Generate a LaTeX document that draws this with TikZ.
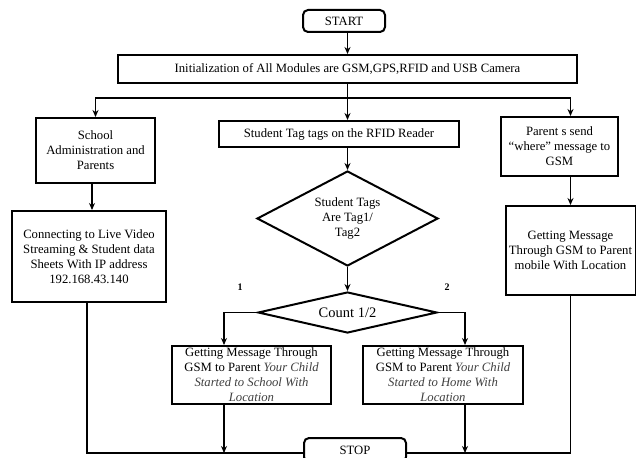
\documentclass[tikz,border=0pt]{standalone}
\usepackage{fontspec}
\setmainfont{Liberation Serif}
\usetikzlibrary{positioning,arrows.meta,shapes.geometric,calc}
\tikzset{
  procbox/.style={draw=black,line width=2pt,fill=white,align=center,inner sep=0pt,font=\fontsize{12.7}{15}\selectfont},
  termbox/.style={procbox,rounded corners=5pt,minimum width=82pt,minimum height=22pt},
  decbox/.style={procbox,diamond,shape aspect=1.9},
  flow/.style={-{Stealth[length=7pt,width=6pt]},line width=1.8pt},
  flowline/.style={line width=1.8pt},
  branchlabel/.style={font=\bfseries\fontsize{10}{12}\selectfont,inner sep=0pt}
}
\begin{document}
\begin{tikzpicture}[x=1pt,y=-1pt]
  \useasboundingbox (0,0) rectangle (636,457);
  % middle column
  \node[termbox] (start) at (344,21) {START};
  \node[procbox,minimum width=459pt,minimum height=28pt,below=21pt of start,xshift=3.5pt] (init)
    {Initialization of All Modules are GSM,GPS,RFID and USB Camera};
  \node[procbox,minimum width=240pt,minimum height=26pt,below=36pt of init,xshift=-8.5pt] (stag)
    {Student Tag tags on the RFID Reader};
  \node[decbox,minimum width=181pt,minimum height=95pt,below=22pt of stag,xshift=8.5pt] (tagcheck)
    {Student Tags\\Are Tag1/\\Tag2};
  \node[decbox,shape aspect=4.3,minimum width=179pt,minimum height=41pt,below=24pt of tagcheck,
    font=\fontsize{14.5}{16}\selectfont] (count) {Count 1/2};
  \node[procbox,minimum width=159pt,minimum height=58pt,below=11pt of count,xshift=-96pt] (schoolmsg)
    {Getting Message Through\\GSM to Parent \textit{\color{black!75}Your Child}\\
     \textit{\color{black!75}Started to School With}\\\textit{\color{black!75}Location}};
  \node[procbox,minimum width=160pt,minimum height=58pt,below=11pt of count,xshift=95.5pt] (homemsg)
    {Getting Message Through\\GSM to Parent \textit{\color{black!75}Your Child}\\
     \textit{\color{black!75}Started to Home With}\\\textit{\color{black!75}Location}};
  \node[termbox,minimum width=102pt,minimum height=24pt] (stop) at (355,450) {STOP};
  \node[branchlabel] (one) at (240,287) {1};
  \node[branchlabel] (two) at (447,287) {2};
  % side columns
  \node[procbox,minimum width=119pt,minimum height=65pt] (admin) at (95.5,150.5)
    {School\\Administration and\\Parents};
  \node[procbox,minimum width=154pt,minimum height=91pt,below=26pt of admin,xshift=-6.5pt] (live)
    {Connecting to Live Video\\Streaming \& Student data\\Sheets With IP address\\192.168.43.140};
  \node[procbox,minimum width=117pt,minimum height=59pt] (parent) at (559.5,146.5)
    {Parent s send\\``where'' message to\\GSM};
  \node[procbox,minimum width=130pt,minimum height=89pt,below=28pt of parent,xshift=11pt] (mobile)
    {Getting Message\\Through GSM to Parent\\mobile With Location};
  % connectors
  \coordinate (split) at ($(init.south)+(0,14)$);
  \draw[flow] (start.south -| init.north) -- (init.north);
  \draw[flow] (init.south) -- (init.south |- stag.north);
  \draw[flow] (split) -| (admin.north);
  \draw[flow] (split) -| (mobile.north |- parent.north);
  \draw[flow] (tagcheck.north |- stag.south) -- (tagcheck.north);
  \draw[flow] (tagcheck.south) -- (count.north);
  \draw[flow] (count.west) -| ([xshift=53pt]schoolmsg.north west);
  \draw[flow] (count.east) -| ([xshift=-59pt]homemsg.north east);
  \draw[flow] ([xshift=-3.5pt]admin.south) -- ([xshift=-3.5pt]admin.south |- live.north);
  \draw[flow] (mobile.north |- parent.south) -- (mobile.north);
  \draw[flowline] ([xshift=-2pt]live.south) |- ([yshift=-3pt]stop.west);
  \draw[flowline] (mobile.south) |- ([yshift=-3pt]stop.east);
  \draw[flow] ([xshift=53pt]schoolmsg.south west) -- ([xshift=53pt,yshift=-3pt]schoolmsg.south west |- stop.west);
  \draw[flow] ([xshift=-59pt]homemsg.south east) -- ([xshift=-59pt,yshift=-3pt]homemsg.south east |- stop.east);
\end{tikzpicture}
\end{document}
